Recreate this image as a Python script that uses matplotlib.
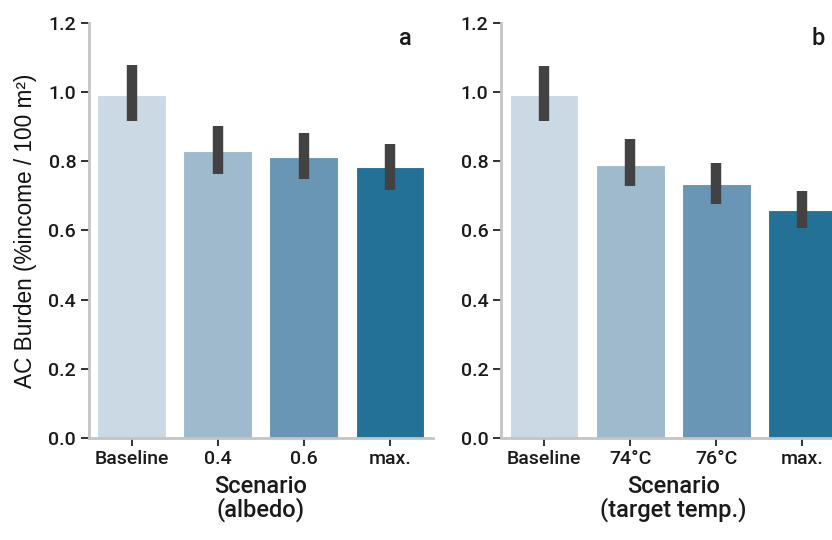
import matplotlib
matplotlib.use("Agg")
import matplotlib.pyplot as plt
import numpy as np

# panel a: albedo scenarios
albedo_labels = ["Baseline", "0.4", "0.6", "max."]
albedo_mean = [0.99, 0.828, 0.813, 0.782]
albedo_lo = [0.916, 0.763, 0.748, 0.716]
albedo_hi = [1.077, 0.901, 0.882, 0.850]

# panel b: target temperature scenarios
temp_labels = ["Baseline", "74°C", "76°C", "max."]
temp_mean = [0.99, 0.789, 0.735, 0.660]
temp_lo = [0.916, 0.729, 0.677, 0.606]
temp_hi = [1.074, 0.863, 0.795, 0.714]

bar_colors = ["#cbd9e5", "#9fbacd", "#6896b4", "#247197"]

tick_font = "Roboto"
label_font = "Liberation Sans"
txt_color = "#1a1a1a"

fig = plt.figure(figsize=(8.32, 5.4), dpi=100)
ax_a = fig.add_axes([0.1066, 0.1889, 0.4138, 0.769])
ax_b = fig.add_axes([0.6022, 0.1889, 0.4138, 0.769])


def draw_panel(ax, labels, mean, lo, hi, xlabel, letter):
    x = np.arange(len(labels))
    ax.bar(x, mean, width=0.8, color=bar_colors, edgecolor="white", linewidth=0.8)
    for xi, l, h in zip(x, lo, hi):
        ax.plot([xi, xi], [l, h], color="#424242", lw=7.5, solid_capstyle="butt")
    ax.set_xlim(-0.5, len(labels) - 0.5)
    ax.set_ylim(0, 1.2)
    ax.set_yticks([0.0, 0.2, 0.4, 0.6, 0.8, 1.0, 1.2])
    ax.set_yticklabels([f"{v:.1f}" for v in ax.get_yticks()], fontsize=14,
                       family=tick_font, weight="medium", color=txt_color)
    ax.set_xticks(x)
    ax.set_xticklabels(labels, fontsize=14, family=tick_font, weight="medium",
                       color=txt_color)
    ax.tick_params(axis="both", length=6, width=1.3, color="#222222", pad=3)
    for s in ["top", "right"]:
        ax.spines[s].set_visible(False)
    for s in ["left", "bottom"]:
        ax.spines[s].set_color("#c4c4c4")
        ax.spines[s].set_linewidth(2)
    ax.set_xlabel(xlabel, fontsize=17, family=tick_font, weight="medium",
                  color=txt_color, linespacing=0.95, labelpad=5)
    ax.text(0.92, 0.962, letter, transform=ax.transAxes, fontsize=17,
            family=tick_font, weight="medium", color=txt_color,
            ha="center", va="center")


draw_panel(ax_a, albedo_labels, albedo_mean, albedo_lo, albedo_hi, "Scenario\n(albedo)", "a")
draw_panel(ax_b, temp_labels, temp_mean, temp_lo, temp_hi, "Scenario\n(target temp.)", "b")

ax_a.set_ylabel("AC Burden (%income / 100 m²)", fontsize=16.3, family=label_font,
                color="#111111", labelpad=8)

fig.savefig("out.png", dpi=100)
